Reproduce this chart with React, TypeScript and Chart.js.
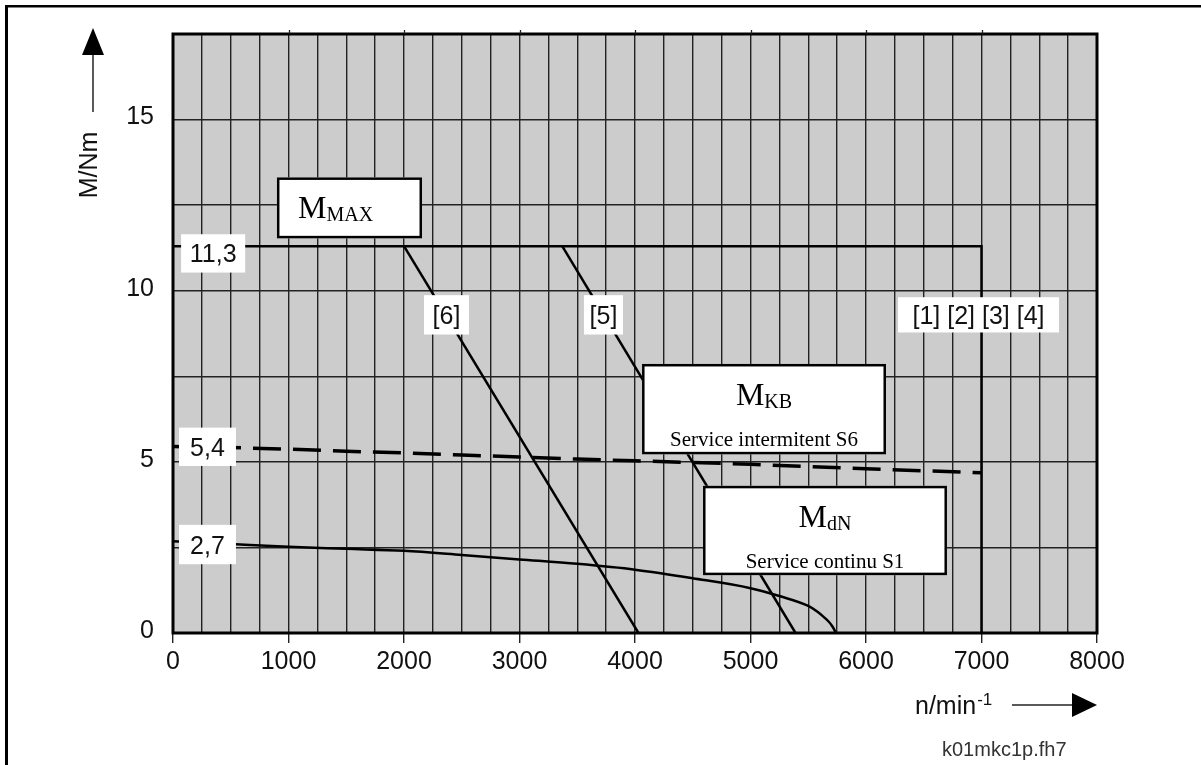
import React, { useEffect, useRef } from "react";
import { Chart, registerables } from "chart.js";

Chart.register(...registerables);

const SANS = "'Liberation Sans', Arial, Helvetica, sans-serif";
const SERIF = "'Liberation Serif', 'Times New Roman', serif";

// ---- axes ----
const X_MIN = 0;
const X_MAX = 8000;
const X_GRID_STEP = 250;
const X_LABEL_STEP = 1000;
const Y_MIN = 0;
const Y_MAX = 17.5;
const Y_GRID_STEP = 2.5;
const Y_LABEL_STEP = 5;

// ---- series (speed n/min-1, torque M/Nm) ----
// M_MAX limit (curves [1]..[4])
const mmaxSpeed = [0, 7000, 7000];
const mmaxTorque = [11.3, 11.3, 0];
// curve [6]
const line6Speed = [2000, 4030];
const line6Torque = [11.3, 0];
// curve [5]
const line5Speed = [3370, 5390];
const line5Torque = [11.3, 0];
// M_KB, service intermittent S6 (dashed)
const s6Speed = [0, 500, 1000, 1500, 2000, 2500, 3000, 3500, 4000, 4500, 5000, 5500, 6000, 6500, 7000];
const s6Torque = [5.45, 5.42, 5.37, 5.31, 5.26, 5.2, 5.14, 5.08, 5.03, 4.98, 4.93, 4.86, 4.8, 4.74, 4.68];
// M_dN, service continu S1
const s1Speed = [0, 500, 1000, 1500, 2000, 2500, 3000, 3500, 4000, 4500, 5000, 5250, 5500, 5580, 5640, 5680, 5705, 5722, 5732, 5736];
const s1Torque = [2.68, 2.6, 2.52, 2.46, 2.4, 2.28, 2.15, 2.02, 1.85, 1.6, 1.31, 1.08, 0.79, 0.62, 0.45, 0.32, 0.21, 0.12, 0.05, 0];

// ---- texts ----
const yAxisTitle = "M/Nm";
const xAxisTitle = "n/min";
const xAxisTitleSup = "-1";
const footnote = "k01mkc1p.fh7";

// ---- annotation boxes (in data coordinates) ----
const tagBoxes = [
  { text: "11,3", x0: 70, x1: 625, yTop: 11.65, yBot: 10.53 },
  { text: "5,4", x0: 52, x1: 545, yTop: 6.0, yBot: 4.88 },
  { text: "2,7", x0: 52, x1: 545, yTop: 3.16, yBot: 2.01 },
  { text: "[6]", x0: 2173, x1: 2563, yTop: 9.87, yBot: 8.72 },
  { text: "[5]", x0: 3558, x1: 3896, yTop: 9.87, yBot: 8.72 },
  { text: "[1] [2] [3] [4]", x0: 6277, x1: 7671, yTop: 9.81, yBot: 8.78 },
];
const torqueBoxes = [
  { main: "M", sub: "MAX", caption: "", x0: 900, x1: 2156, yTop: 13.31, yBot: 11.53, align: "left" },
  { main: "M", sub: "KB", caption: "Service intermitent S6", x0: 4061, x1: 6173, yTop: 7.86, yBot: 5.22, align: "center" },
  { main: "M", sub: "dN", caption: "Service continu S1", x0: 4589, x1: 6701, yTop: 4.3, yBot: 1.69, align: "center" },
];

const pts = (xs: number[], ys: number[]) => xs.map((x, i) => ({ x, y: ys[i] }));

const decor = {
  id: "decor",
  beforeDraw(chart: any) {
    const { ctx, chartArea: a } = chart;
    ctx.save();
    ctx.fillStyle = "#cccccc";
    ctx.fillRect(a.left, a.top, a.right - a.left, a.bottom - a.top);
    ctx.restore();
  },
  afterDatasetsDraw(chart: any) {
    const { ctx, chartArea: a } = chart;
    const xs = chart.scales.x;
    const ys = chart.scales.y;
    ctx.save();
    // plain white tags
    for (const b of tagBoxes) {
      const l = xs.getPixelForValue(b.x0);
      const r = xs.getPixelForValue(b.x1);
      const t = ys.getPixelForValue(b.yTop);
      const bt = ys.getPixelForValue(b.yBot);
      ctx.fillStyle = "#ffffff";
      ctx.fillRect(l, t, r - l, bt - t);
      ctx.fillStyle = "#111111";
      ctx.font = `25px ${SANS}`;
      ctx.textAlign = "center";
      ctx.textBaseline = "alphabetic";
      ctx.fillText(b.text, (l + r) / 2, (t + bt) / 2 + 9);
    }
    // bordered torque boxes
    for (const b of torqueBoxes) {
      const l = xs.getPixelForValue(b.x0);
      const r = xs.getPixelForValue(b.x1);
      const t = ys.getPixelForValue(b.yTop);
      const bt = ys.getPixelForValue(b.yBot);
      ctx.fillStyle = "#ffffff";
      ctx.fillRect(l, t, r - l, bt - t);
      ctx.strokeStyle = "#000000";
      ctx.lineWidth = 2.5;
      ctx.strokeRect(l + 1.25, t + 1.25, r - l - 2.5, bt - t - 2.5);
      ctx.fillStyle = "#000000";
      ctx.textBaseline = "alphabetic";
      ctx.textAlign = "left";
      const mainFont = `32px ${SERIF}`;
      const subFont = `20px ${SERIF}`;
      ctx.font = mainFont;
      const wm = ctx.measureText(b.main).width;
      ctx.font = subFont;
      const ws = ctx.measureText(b.sub).width;
      const total = wm + ws;
      const sx = b.align === "left" ? l + 21 : (l + r) / 2 - total / 2;
      const baseY = t + 41;
      ctx.font = mainFont;
      ctx.fillText(b.main, sx, baseY);
      ctx.font = subFont;
      ctx.fillText(b.sub, sx + wm, baseY + 3);
      if (b.caption) {
        ctx.font = `21px ${SERIF}`;
        ctx.textAlign = "center";
        ctx.fillText(b.caption, (l + r) / 2, t + 82);
      }
    }
    // plot border
    ctx.strokeStyle = "#000000";
    ctx.lineWidth = 3;
    ctx.strokeRect(a.left, a.top, a.right - a.left, a.bottom - a.top);
    // small ticks above the plot at major speeds
    ctx.lineWidth = 1.3;
    ctx.strokeStyle = "#222222";
    for (let v = X_MIN + X_LABEL_STEP; v < X_MAX; v += X_LABEL_STEP) {
      const px = Math.round(xs.getPixelForValue(v)) + 0.5;
      ctx.beginPath();
      ctx.moveTo(px, a.top - 4);
      ctx.lineTo(px, a.top);
      ctx.stroke();
    }
    ctx.restore();
  },
  afterDraw(chart: any) {
    const { ctx } = chart;
    ctx.save();
    // outer frame (left and top)
    ctx.fillStyle = "#000000";
    ctx.fillRect(5, 5, 3, 760);
    ctx.fillRect(5, 5, 1196, 2.5);

    // y axis title + arrow
    ctx.strokeStyle = "#222222";
    ctx.fillStyle = "#000000";
    ctx.lineWidth = 1.5;
    ctx.beginPath();
    ctx.moveTo(93, 112);
    ctx.lineTo(93, 54);
    ctx.stroke();
    ctx.beginPath();
    ctx.moveTo(93, 28);
    ctx.lineTo(82, 55);
    ctx.lineTo(104, 55);
    ctx.closePath();
    ctx.fill();
    ctx.save();
    ctx.translate(90, 165);
    ctx.rotate(-Math.PI / 2);
    ctx.font = `25px ${SANS}`;
    ctx.textAlign = "center";
    ctx.textBaseline = "middle";
    ctx.fillStyle = "#111111";
    ctx.fillText(yAxisTitle, 0, 0);
    ctx.restore();

    // x axis title + arrow
    ctx.font = `25px ${SANS}`;
    ctx.textAlign = "left";
    ctx.textBaseline = "alphabetic";
    ctx.fillStyle = "#111111";
    ctx.fillText(xAxisTitle, 915, 714);
    const wt = ctx.measureText(xAxisTitle).width;
    ctx.font = `17px ${SANS}`;
    ctx.fillText(xAxisTitleSup, 915 + wt + 1, 705);
    ctx.beginPath();
    ctx.moveTo(1012, 705);
    ctx.lineTo(1074, 705);
    ctx.stroke();
    ctx.beginPath();
    ctx.moveTo(1097, 705);
    ctx.lineTo(1072, 693);
    ctx.lineTo(1072, 717);
    ctx.closePath();
    ctx.fillStyle = "#000000";
    ctx.fill();

    // footnote
    ctx.font = `20px ${SANS}`;
    ctx.fillStyle = "#333333";
    ctx.fillText(footnote, 942, 756);
    ctx.restore();
  },
};

export default function App() {
  const ref = useRef<HTMLCanvasElement>(null);
  useEffect(() => {
    const canvas = ref.current;
    if (!canvas) return;
    Chart.defaults.font.family = SANS;
    const line = (d: any[], extra: any = {}) => ({
      data: d,
      borderColor: "#000000",
      borderWidth: 2.5,
      pointRadius: 0,
      fill: false,
      tension: 0,
      ...extra,
    });
    const chart = new Chart(canvas, {
      type: "line",
      data: {
        datasets: [
          line(pts(mmaxSpeed, mmaxTorque), { label: "M_MAX", borderWidth: 2.5 }),
          line(pts(line6Speed, line6Torque), { label: "[6]" }),
          line(pts(line5Speed, line5Torque), { label: "[5]" }),
          line(pts(s6Speed, s6Torque), { label: "M_KB S6", borderWidth: 3.5, borderDash: [28, 12], borderCapStyle: "butt" }),
          line(pts(s1Speed, s1Torque), { label: "M_dN S1", cubicInterpolationMode: "monotone" }),
        ],
      },
      options: {
        responsive: false,
        animation: false,
        devicePixelRatio: 1,
        layout: { padding: { left: 0, top: 23, right: 104, bottom: 0 } },
        plugins: { legend: { display: false }, tooltip: { enabled: false }, title: { display: false } },
        scales: {
          x: {
            type: "linear",
            min: X_MIN,
            max: X_MAX,
            border: { display: false },
            grid: {
              color: "#222222",
              lineWidth: 1.4,
              tickLength: 10,
              tickColor: (c: any) => (c.tick && c.tick.value % X_LABEL_STEP === 0 ? "#222222" : "rgba(0,0,0,0)"),
            },
            ticks: {
              stepSize: X_GRID_STEP,
              autoSkip: false,
              maxRotation: 0,
              minRotation: 0,
              padding: 4,
              color: "#111111",
              font: { family: SANS, size: 25 },
              callback: (v: any) => (Number(v) % X_LABEL_STEP === 0 ? String(v) : ""),
            },
            afterFit: (s: any) => {
              s.height = 132;
            },
          },
          y: {
            type: "linear",
            min: Y_MIN,
            max: Y_MAX,
            border: { display: false },
            grid: { color: "#222222", lineWidth: 1.4, drawTicks: false },
            ticks: {
              stepSize: Y_GRID_STEP,
              padding: 19,
              labelOffset: -2,
              color: "#111111",
              font: { family: SANS, size: 25 },
              callback: (v: any) => (Number(v) % Y_LABEL_STEP === 0 ? String(v) : ""),
            },
            afterFit: (s: any) => {
              s.width = 173;
            },
          },
        },
      },
      plugins: [decor],
    } as any);
    return () => chart.destroy();
  }, []);
  return (
    <div style={{ position: "absolute", left: 0, top: 0, width: 1201, height: 765, background: "#ffffff" }}>
      <canvas ref={ref} width={1201} height={765} style={{ display: "block", width: 1201, height: 765 }} />
    </div>
  );
}
